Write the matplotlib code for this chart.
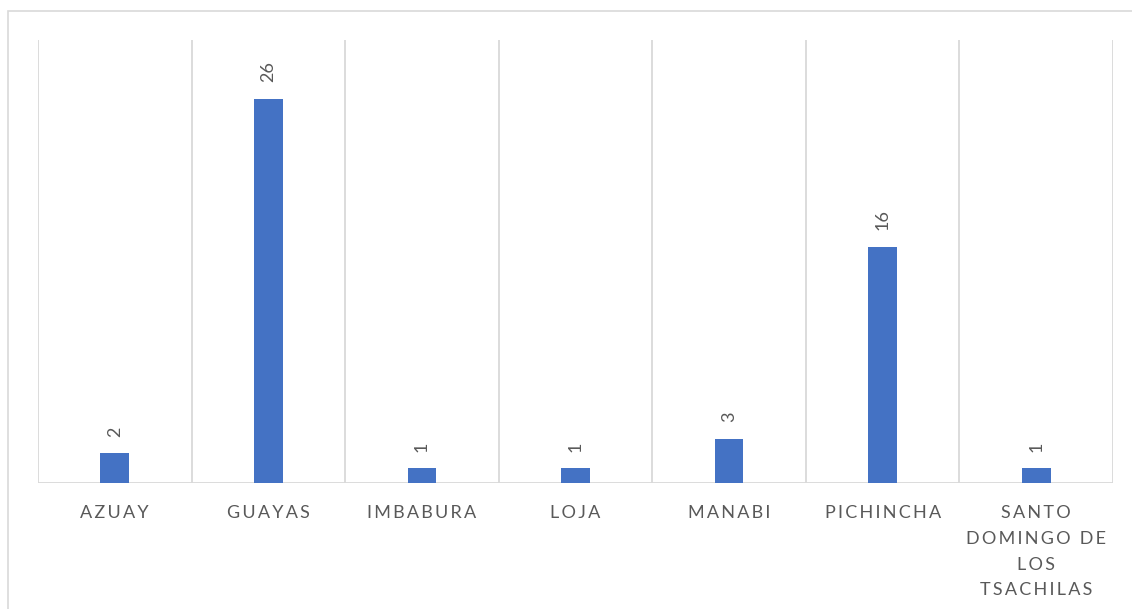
import matplotlib
matplotlib.use("Agg")
import matplotlib.pyplot as plt
import matplotlib.patches as patches
import numpy as np

provinces = ["AZUAY", "GUAYAS", "IMBABURA", "LOJA", "MANABI", "PICHINCHA",
             "SANTO\nDOMINGO DE\nLOS\nTSACHILAS"]
counts = [2, 26, 1, 1, 3, 16, 1]

bar_color = "#4472C4"
grid_color = "#D9D9D9"
text_color = "#595959"
fonts = ["Lato", "DejaVu Sans"]


def spaced(label):
    # widen the letter spacing the way the office chart does
    return "\n".join("\u2009".join(line) for line in label.split("\n"))


fig = plt.figure(figsize=(11.32, 6.09), dpi=100)
W, H = 1132, 609

# outer chart frame
fig.patches.append(patches.Rectangle((8 / W, -0.1), 1.2, 1 - 11 / H + 0.1,
                                     transform=fig.transFigure, fill=False,
                                     edgecolor=grid_color, linewidth=1.2))

ax = fig.add_axes([38 / W, (H - 483) / H, (1113 - 38) / W, (483 - 40) / H])
x = np.arange(len(provinces))
bars = ax.bar(x, counts, width=0.187, color=bar_color, zorder=3)

ax.set_xlim(-0.5, len(provinces) - 0.5)
ax.set_ylim(0, 30)

# vertical separators between categories
for xv in np.arange(-0.5, len(provinces), 1.0):
    ax.axvline(xv, color=grid_color, linewidth=1.3, zorder=1)
ax.axhline(0, color=grid_color, linewidth=1.3, zorder=2)

for spine in ax.spines.values():
    spine.set_visible(False)
ax.set_yticks([])
ax.set_xticks(x)
ax.set_xticklabels([spaced(p) for p in provinces], color=text_color,
                   fontsize=13, family=fonts, linespacing=1.75, va="top")
ax.tick_params(axis="x", length=0, pad=16)

for xi, v in zip(x, counts):
    ax.annotate(str(v), (xi, v), xytext=(0, 12), textcoords="offset points",
                rotation=90, ha="center", va="bottom", color=text_color,
                fontsize=13, family=fonts)

fig.savefig("out.png", dpi=100)
